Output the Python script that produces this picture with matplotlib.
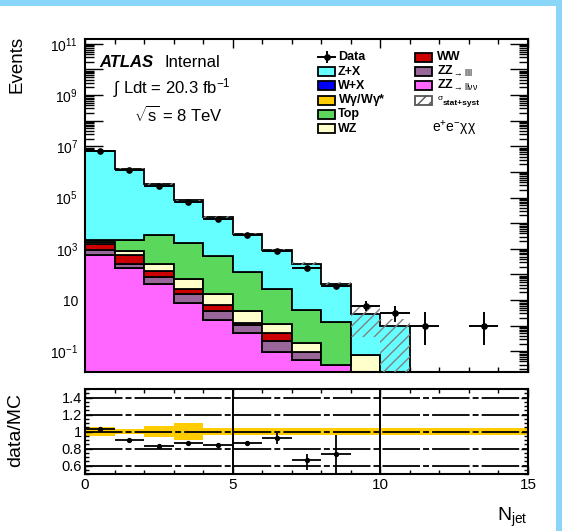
import numpy as np
import matplotlib
matplotlib.use("Agg")
import matplotlib.pyplot as plt
from matplotlib.patches import Rectangle
from matplotlib.lines import Line2D
from matplotlib.ticker import MultipleLocator, FixedLocator, FuncFormatter, LogLocator, NullFormatter

plt.rcParams['font.family'] = ['Liberation Sans', 'DejaVu Sans']
plt.rcParams['mathtext.fontset'] = 'custom'
plt.rcParams['mathtext.rm'] = 'Liberation Sans'
plt.rcParams['mathtext.it'] = 'Liberation Sans:italic'
plt.rcParams['mathtext.bf'] = 'Liberation Sans:bold'
plt.rcParams['mathtext.default'] = 'regular'
plt.rcParams['hatch.linewidth'] = 1.0
plt.rcParams['lines.scale_dashes'] = False

W, H = 562, 531

# ---------------- data ----------------
njet_edges = np.arange(0, 12)          # MC histogram bins 0..10
ratio_edges = np.arange(0, 16)         # ratio panel bins 0..14

# stacked backgrounds, bottom to top
zz_llvv = [553, 184, 41, 7.6, 1.61, 0.52, 0.094, 0.044, 0.030, 0, 0]
zz_llll = [314, 79, 38, 9.1, 2.1, 0.51, 0.15, 0.047, 0, 0, 0]
ww      = [723, 290, 52, 11.3, 2.5, 0.2, 0.275, 0, 0, 0, 0]
wz      = [200, 240, 116, 40, 10.5, 2.5, 0.68, 0.127, 0, 0.070, 0]
top     = [340, 1477, 3093, 1602, 489, 120, 24.8, 3.74, 1.36, 0, 0]
wgamma  = [3, 1, 0.3, 0, 0, 0, 0, 0, 0, 0, 0]
wjets   = [6, 3, 1, 0.3, 0, 0, 0, 0, 0, 0, 0]
zjets   = [6.47e6, 1.33e6, 3.44e5, 7.56e4, 1.68e4, 3766, 899, 259, 39.6, 2.70, 0.94]

# MC stat+syst uncertainty on the total (absolute, up / down)
mc_err_up = [4.5e5, 9.5e4, 2.6e4, 6.0e3, 1.3e3, 300, 80, 32, 10, 3.4, 0.94]
mc_err_dn = [4.5e5, 9.5e4, 2.6e4, 6.0e3, 1.3e3, 300, 80, 32, 10, 2.4, 0.94]

# observed events per N_jet bin
data_x = [0.5, 1.5, 2.5, 3.5, 4.5, 5.5, 6.5, 7.5, 8.5, 9.5, 10.5, 11.5, 13.5]
data_y = [6.6e6, 1.18e6, 2.9e5, 6.5e4, 1.42e4, 3450, 820, 176, 34, 6, 3, 1, 1]
data_err_dn = [2570, 1090, 540, 255, 119, 59, 29, 13, 5.8, 2.38, 1.63, 0.83, 0.83]
data_err_up = [2570, 1090, 540, 255, 119, 59, 29, 13, 5.8, 3.58, 2.92, 2.30, 2.30]

# data / MC
ratio_x = [0.5, 1.5, 2.5, 3.5, 4.5, 5.5, 6.5, 7.5, 8.5]
ratio_y = [1.028, 0.902, 0.824, 0.864, 0.843, 0.864, 0.922, 0.66, 0.73]
ratio_err_dn = [0.004, 0.006, 0.006, 0.01, 0.012, 0.02, 0.07, 0.11, 0.25]
ratio_err_up = [0.004, 0.006, 0.006, 0.01, 0.012, 0.02, 0.06, 0.07, 0.23]
ratio_band = [0.05, 0.035, 0.07, 0.10, 0.045, 0.045, 0.045, 0.045, 0.045,
              0.045, 0.045, 0.045, 0.045, 0.045, 0.045]

y_tick_exponents = [11, 9, 7, 5, 3, 1, -1]
ratio_ticks = [0.6, 0.8, 1.0, 1.2, 1.4]

# ---------------- styling ----------------
C_ZJ = '#66FFFF'
C_WJ = '#0000FF'
C_WG = '#FFCC00'
C_TOP = '#5BD75B'
C_WZ = '#FFFFCC'
C_WW = '#CC0000'
C_LLLL = '#996699'
C_LLVV = '#FF66FF'
C_BAND = '#FFCC00'
EDGE_LW = 1.3
FLOOR = 1e-3


def fx(px):
    return px / W


def fy(py):
    return 1 - py / H


fig = plt.figure(figsize=(W / 100, H / 100), dpi=100)

# light-blue page frame
fig.patches.append(Rectangle((0, fy(6)), 1, 6 / H, transform=fig.transFigure,
                             facecolor='#8AD6F8', edgecolor='none', zorder=-5))
fig.patches.append(Rectangle((fx(556), 0), 6 / W, 1, transform=fig.transFigure,
                             facecolor='#8AD6F8', edgecolor='none', zorder=-5))

ax = fig.add_axes([fx(85), fy(372), (528 - 85) / W, (372 - 39) / H])
rax = fig.add_axes([fx(85), fy(474), (528 - 85) / W, (474 - 389) / H])

# ---------------- main panel ----------------
stack = [(zz_llvv, C_LLVV), (zz_llll, C_LLLL), (ww, C_WW), (wz, C_WZ),
         (top, C_TOP), (wgamma, C_WG), (wjets, C_WJ), (zjets, C_ZJ)]
cum = np.zeros(len(zjets))
lower = np.full(len(zjets), FLOOR)
for vals, col in stack:
    cum = cum + np.asarray(vals, dtype=float)
    upper = np.maximum(cum, FLOOR)
    ax.stairs(upper, njet_edges, baseline=lower.copy(), fill=True,
              facecolor=col, edgecolor='black', linewidth=EDGE_LW, zorder=2)
    lower = upper

total = cum
band_hi = total + np.asarray(mc_err_up)
band_lo = np.maximum(total - np.asarray(mc_err_dn), FLOOR)
ax.stairs(band_hi, njet_edges, baseline=band_lo, fill=True, facecolor='none',
          edgecolor='#808080', linewidth=0, hatch='///', zorder=3)

ax.errorbar(data_x, data_y, xerr=0.5, yerr=[data_err_dn, data_err_up],
            fmt='o', color='black', ms=3.8, elinewidth=1.4, capsize=0, zorder=10)

ax.set_yscale('log')
ax.set_xlim(0, 15)
ax.set_ylim(0.0155, 1.55e11)


def ylab(v, pos):
    n = int(round(np.log10(v)))
    if n not in y_tick_exponents:
        return ''
    if n == 1:
        return '10'
    return r'$10^{%d}$' % n


ax.yaxis.set_major_locator(FixedLocator([10.0 ** k for k in range(-2, 12)]))
ax.yaxis.set_major_formatter(FuncFormatter(ylab))
ax.yaxis.set_minor_locator(LogLocator(base=10, subs=np.arange(2, 10), numticks=200))
ax.yaxis.set_minor_formatter(NullFormatter())
ax.xaxis.set_major_locator(MultipleLocator(5))
ax.xaxis.set_minor_locator(MultipleLocator(1))
ax.tick_params(which='both', direction='in', top=True, right=True,
               labelbottom=False, width=1.0, colors='black')
ax.tick_params(axis='x', which='major', length=6.5)
ax.tick_params(axis='x', which='minor', length=3.3)
ax.tick_params(axis='y', which='major', length=13, pad=5, labelsize=10)
ax.tick_params(axis='y', which='minor', length=6.5)
for s in ax.spines.values():
    s.set_linewidth(1.5)

fig.text(fx(17), fy(36), 'Events', rotation=90, ha='center', va='top', fontsize=13.5)

# labels
fig.text(fx(99), fy(67), 'ATLAS', fontsize=12, fontweight='bold', style='italic')
fig.text(fx(165), fy(67), 'Internal', fontsize=12)
fig.text(fx(113), fy(93), r'$\int$ Ldt = 20.3 fb$^{-1}$', fontsize=12)
fig.text(fx(134), fy(122), r'$\sqrt{s}$ = 8 TeV', fontsize=12)

# legend, drawn entry by entry in two columns
ROW0, DROW = 57.3, 14.3
BOX_W, BOX_H = 17, 9
LEG_FS = 9


def leg_box(x0, row, face, hatch=None, edge='black'):
    yc = ROW0 + row * DROW
    fig.add_artist(Rectangle((fx(x0), fy(yc + BOX_H / 2)), BOX_W / W, BOX_H / H,
                             transform=fig.transFigure, facecolor=face,
                             edgecolor=edge, linewidth=1.3, hatch=hatch))


def leg_text(x0, row, txt, **kw):
    yc = ROW0 + row * DROW
    fig.text(fx(x0), fy(yc), txt, ha='left', va='center', fontsize=LEG_FS,
             fontweight='bold', **kw)


# data entry: point with error cross
yc0 = ROW0
fig.add_artist(Line2D([fx(318), fx(335)], [fy(yc0), fy(yc0)], color='black', lw=1.4,
                      transform=fig.transFigure))
fig.add_artist(Line2D([fx(326.5), fx(326.5)], [fy(yc0 - 5), fy(yc0 + 5)], color='black',
                      lw=1.4, transform=fig.transFigure))
fig.add_artist(Line2D([fx(326.5)], [fy(yc0)], marker='o', ms=3.8, color='black',
                      transform=fig.transFigure))
leg_text(338, 0, 'Data')

col1 = [(C_ZJ, 'Z+X'), (C_WJ, 'W+X'), (C_WG, r'W$\gamma$/W$\gamma$*'),
        (C_TOP, 'Top'), (C_WZ, 'WZ')]
for i, (c, lab) in enumerate(col1, start=1):
    leg_box(318, i, c)
    leg_text(338, i, lab)

col2 = [(C_WW, 'WW'), (C_LLLL, r'ZZ$_{\rightarrow\mathrm{llll}}$'),
        (C_LLVV, r'ZZ$_{\rightarrow\mathrm{ll\nu\nu}}$')]
for i, (c, lab) in enumerate(col2):
    leg_box(415, i, c)
    leg_text(437, i, lab)
leg_box(415, 3, 'white', hatch='///', edge='#555555')
yc3 = ROW0 + 3 * DROW
fig.text(fx(437), fy(yc3 - 2.2), r'$\sigma$', ha='left', va='center', fontsize=6)
fig.text(fx(443), fy(yc3 + 3.5), 'stat+syst', ha='left', va='center', fontsize=6,
         fontweight='bold')

fig.text(fx(432), fy(133), r'e$^{+}$e$^{-}\chi\chi$', fontsize=10)

# ---------------- ratio panel ----------------
rb = np.asarray(ratio_band)
rax.stairs(1 + rb, ratio_edges, baseline=1 - rb, fill=True, color=C_BAND,
           linewidth=0, zorder=1)
for yv in ratio_ticks:
    rax.axhline(yv, color='black', lw=1.3, dashes=(27, 2.2, 4.3, 2.2), zorder=2)
for xv in (5, 10):
    rax.axvline(xv, color='black', lw=1.4, zorder=2)
rax.errorbar(ratio_x, ratio_y, xerr=0.5, yerr=[ratio_err_dn, ratio_err_up],
             fmt='o', color='black', ms=2.8, elinewidth=1.3, capsize=0, zorder=5)

rax.set_xlim(0, 15)
rax.set_ylim(0.5, 1.5)
rax.xaxis.set_major_locator(MultipleLocator(5))
rax.xaxis.set_minor_locator(MultipleLocator(1))
rax.yaxis.set_major_locator(FixedLocator(ratio_ticks))
rax.yaxis.set_minor_locator(MultipleLocator(0.05))
rax.yaxis.set_major_formatter(FuncFormatter(lambda v, p: '1' if abs(v - 1) < 1e-9 else '%.1f' % v))
rax.tick_params(which='both', direction='in', top=True, right=True, width=1.0)
rax.tick_params(axis='x', which='major', length=6, pad=3, labelsize=11)
rax.tick_params(axis='x', which='minor', length=3)
rax.tick_params(axis='y', which='major', length=5, pad=2, labelsize=10.5)
rax.tick_params(axis='y', which='minor', length=3)
for s in rax.spines.values():
    s.set_linewidth(1.5)

fig.text(fx(16), fy(430), 'data/MC', rotation=90, ha='center', va='center', fontsize=14)
fig.text(fx(528), fy(521), r'N$_{\mathrm{jet}}$', ha='right', va='baseline', fontsize=14)

fig.savefig('out.png', dpi=100)
